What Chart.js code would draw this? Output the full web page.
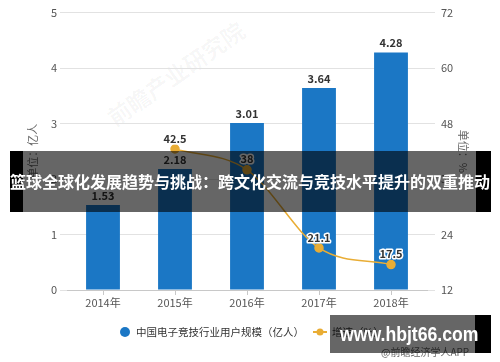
<!DOCTYPE html>
<html>
<head>
<meta charset="utf-8">
<script src="https://cdn.jsdelivr.net/npm/chart.js@4.4.1/dist/chart.umd.min.js"></script>
<style>
  html, body { margin: 0; padding: 0; background: #fff; }
  #wrap { position: relative; width: 500px; height: 362px; overflow: hidden; font-family: "Noto Sans CJK SC", "Noto Sans", sans-serif; }
  #c { position: absolute; left: 0; top: 0; z-index: 1; }
  #wm { position: absolute; left: 88px; top: 56px; width: 175px; text-align: center; transform: rotate(-35deg); transform-origin: 50% 50%; font-size: 23px; font-weight: bold; color: rgba(0,0,0,0.04); white-space: nowrap; z-index: 0; }
  #banner { position: absolute; left: 10px; top: 151px; width: 481px; height: 61px; background: rgba(0,0,0,0.6); z-index: 2; }
  #banner .l { position: absolute; left: 0; top: 0; width: 13px; height: 61px; background: #000; }
  #banner .r { position: absolute; right: 0; top: 0; width: 15px; height: 61px; background: #000; }
  #banner .t { position: absolute; left: 0; top: 0; line-height: 61px; font-size: 16px; font-weight: bold; color: #fff; white-space: nowrap; }
  #src { position: absolute; left: 381px; top: 344px; font-size: 10px; color: #666; z-index: 1; white-space: nowrap; }
  #site { position: absolute; left: 330px; top: 315px; width: 161px; height: 38px; background: rgba(0,0,0,0.6); z-index: 3; }
  #site .r { position: absolute; right: 0; top: 0; width: 16px; height: 38px; background: #000; }
  #site .t { position: absolute; left: 10px; top: 0; line-height: 38px; font-size: 21px; font-weight: bold; color: #fff; white-space: nowrap; font-family: "Liberation Sans", Arial, sans-serif; transform: scaleX(0.84); transform-origin: 0 50%; }
</style>
</head>
<body>
<div id="wrap">
  <div id="wm">前瞻产业研究院</div>
  <canvas id="c" width="500" height="362"></canvas>
  <div id="src">@前瞻经济学人APP</div>
  <div id="banner"><div class="l"></div><div class="r"></div><div class="t">篮球全球化发展趋势与挑战：跨文化交流与竞技水平提升的双重推动</div></div>
  <div id="site"><div class="r"></div><div class="t">www.hbjt66.com</div></div>
</div>
<script>
const categories = ["2014年", "2015年", "2016年", "2017年", "2018年"];
const userScale = [1.53, 2.18, 3.01, 3.64, 4.28];
const growthRate = [null, 42.5, 38, 21.1, 17.5];
const seriesNames = ["中国电子竞技行业用户规模（亿人）", "增速（%）"];
const leftTicks = [0, 1, 2, 3, 4, 5];
const rightTicks = [12, 24, 36, 48, 60, 72];
const leftTitle = "单位：亿人";
const rightTitle = "单位：%";

const FONT = '"Noto Sans CJK SC", "Noto Sans", sans-serif';
const BLUE = '#1b77c5';
const GOLD = '#e9ad35';
const GRID = '#e2e2e2';

const labelPlugin = {
  id: 'labels',
  afterDatasetsDraw(chart) {
    const ctx = chart.ctx;
    ctx.save();
    ctx.textAlign = 'center';
    ctx.textBaseline = 'bottom';
    ctx.font = 'bold 11px ' + FONT;
    chart.data.datasets.forEach((ds, di) => {
      const meta = chart.getDatasetMeta(di);
      meta.data.forEach((el, i) => {
        const v = ds.data[i];
        if (v === null || v === undefined) return;
        if (ds.type === 'bar') {
          ctx.fillStyle = '#333';
          ctx.fillText(String(v), el.x, el.y - 4);
        } else {
          ctx.lineWidth = 3;
          ctx.strokeStyle = '#fff';
          ctx.lineJoin = 'round';
          ctx.strokeText(String(v), el.x, el.y - 5);
          ctx.fillStyle = '#333';
          ctx.fillText(String(v), el.x, el.y - 5);
        }
      });
    });
    ctx.restore();
  },
  afterDraw(chart) {
    const ctx = chart.ctx;
    ctx.save();
    const y = 332;
    ctx.fillStyle = BLUE;
    ctx.beginPath();
    ctx.arc(125, y, 5, 0, Math.PI * 2);
    ctx.fill();
    ctx.font = '10.5px ' + FONT;
    ctx.fillStyle = '#333';
    ctx.textBaseline = 'middle';
    ctx.textAlign = 'left';
    ctx.fillText(seriesNames[0], 136, y);
    ctx.strokeStyle = GOLD;
    ctx.lineWidth = 2;
    ctx.beginPath();
    ctx.moveTo(313, y);
    ctx.lineTo(327, y);
    ctx.stroke();
    ctx.fillStyle = GOLD;
    ctx.beginPath();
    ctx.arc(320, y, 3.5, 0, Math.PI * 2);
    ctx.fill();
    ctx.fillStyle = '#333';
    ctx.fillText(seriesNames[1], 332, y);
    ctx.restore();
  }
};

new Chart(document.getElementById('c'), {
  data: {
    labels: categories,
    datasets: [
      {
        type: 'line',
        label: seriesNames[1],
        data: growthRate,
        yAxisID: 'y2',
        borderColor: GOLD,
        backgroundColor: GOLD,
        borderWidth: 1.5,
        pointRadius: 4,
        pointBackgroundColor: GOLD,
        pointBorderColor: GOLD,
        cubicInterpolationMode: 'monotone',
        spanGaps: false,
        order: 1
      },
      {
        type: 'bar',
        label: seriesNames[0],
        data: userScale,
        yAxisID: 'y',
        backgroundColor: BLUE,
        barPercentage: 0.47,
        categoryPercentage: 1,
        order: 2
      }
    ]
  },
  plugins: [labelPlugin],
  options: {
    responsive: false,
    animation: false,
    devicePixelRatio: 1,
    layout: { padding: { top: 12, bottom: 0, left: 0, right: 0 } },
    plugins: { legend: { display: false }, tooltip: { enabled: false } },
    scales: {
      x: {
        type: 'category',
        offset: true,
        afterFit(s) { s.height = 72; },
        grid: { offset: false, drawOnChartArea: false, drawTicks: true, tickLength: 5, color: '#c8c8c8' },
        border: { display: true, color: '#c8c8c8' },
        ticks: { color: '#555', font: { family: FONT, size: 11 }, padding: 1, maxRotation: 0 }
      },
      y: {
        position: 'left',
        min: leftTicks[0],
        max: leftTicks[leftTicks.length - 1],
        afterFit(s) { s.width = 67; },
        afterBuildTicks(s) { s.ticks = leftTicks.map(v => ({ value: v })); },
        grid: { color: GRID, tickLength: 7, drawTicks: true },
        border: { display: false },
        ticks: { color: '#555', font: { family: FONT, size: 11 }, padding: 3 },
        title: { display: true, text: leftTitle, color: '#666', font: { family: FONT, size: 11 }, padding: { top: 26 } }
      },
      y2: {
        position: 'right',
        min: rightTicks[0],
        max: rightTicks[rightTicks.length - 1],
        afterFit(s) { s.width = 73; },
        afterBuildTicks(s) { s.ticks = rightTicks.map(v => ({ value: v })); },
        grid: { drawOnChartArea: false, color: GRID, tickLength: 8, drawTicks: true },
        border: { display: false },
        ticks: { color: '#555', font: { family: FONT, size: 11 }, padding: 6 },
        title: { display: true, text: rightTitle, color: '#666', font: { family: FONT, size: 11 }, padding: { top: 30 } }
      }
    }
  }
});
</script>
</body>
</html>
